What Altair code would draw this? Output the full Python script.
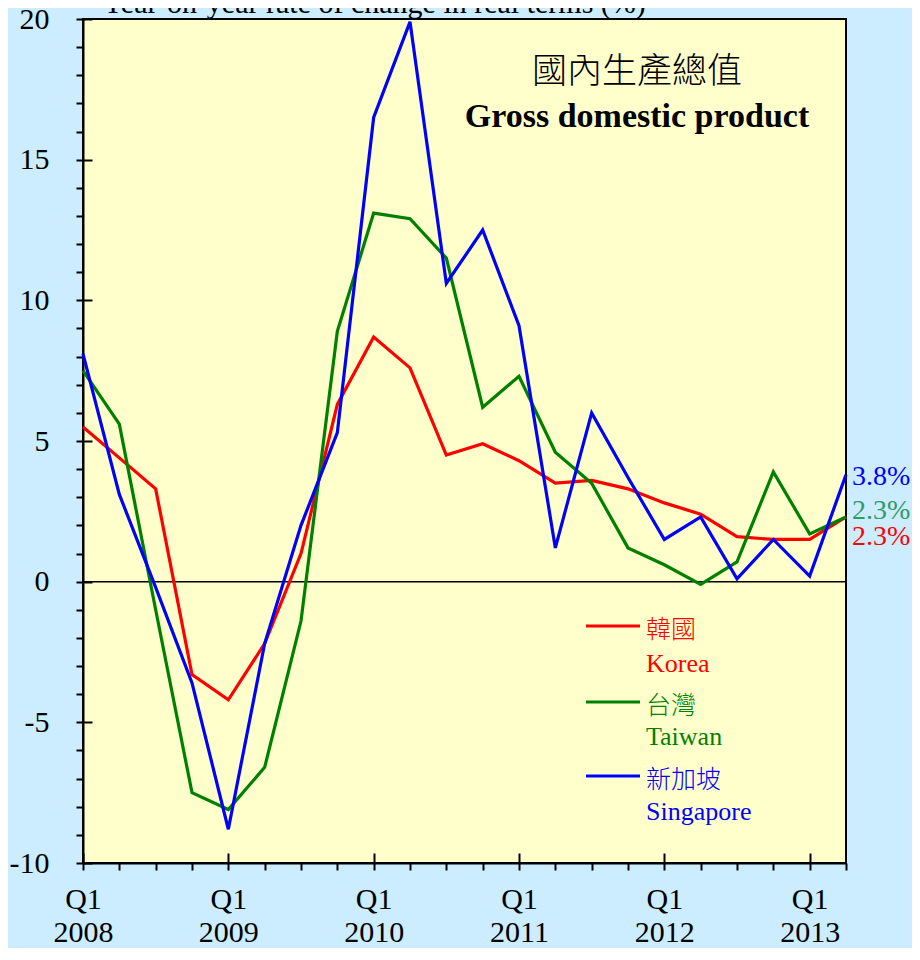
import altair as alt
import pandas as pd
import json

# ---------------- data ----------------
quarters = list(range(22))  # Q1 2008 ... Q2 2013
x_tick_labels = [["Q1", "2008"], "", "", "", ["Q1", "2009"], "", "", "",
                 ["Q1", "2010"], "", "", "", ["Q1", "2011"], "", "", "",
                 ["Q1", "2012"], "", "", "", ["Q1", "2013"], ""]
series = ["Korea", "Taiwan", "Singapore"]
series_zh = ["韓國", "台灣", "新加坡"]
korea = [5.5, 4.4, 3.3, -3.3, -4.2, -2.2, 1.0, 6.3, 8.7, 7.6, 4.5, 4.9,
         4.3, 3.5, 3.6, 3.3, 2.8, 2.4, 1.6, 1.5, 1.5, 2.3]
taiwan = [7.5, 5.6, -1.0, -7.5, -8.1, -6.6, -1.4, 8.9, 13.1, 12.9, 11.5, 6.2,
          7.3, 4.6, 3.5, 1.2, 0.6, -0.1, 0.7, 3.9, 1.7, 2.3]
singapore = [8.1, 3.1, -0.2, -3.6, -8.8, -2.2, 2.0, 5.3, 16.5, 19.9, 10.6, 12.5,
             9.1, 1.2, 6.0, 3.7, 1.5, 2.3, 0.1, 1.5, 0.2, 3.8]
y_ticks = list(range(-10, 21))
y_major = [-10, -5, 0, 5, 10, 15, 20]
x_major = [0, 4, 8, 12, 16, 20]

title_zh = "國內生產總值"
title_en = "Gross domestic product"
y_title = "Year-on-year rate of change in real terms (%)"

# ---------------- styles ----------------
line_colors = ["#FF0000", "#008000", "#0000FF"]
legend_text_colors = ["#FF0000", "#008000", "#0000FF"]
end_label_colors = ["#FF0000", "#339966", "#0000FF"]
end_label_dy = [20, -6, 2]
SERIF = "Liberation Serif"
CJK = "Noto Sans CJK TC"

values = [korea, taiwan, singapore]
rows = []
for s, vals in zip(series, values):
    for q, v in zip(quarters, vals):
        rows.append({"i": q, "v": v, "s": s})
df = pd.DataFrame(rows)

xscale = alt.Scale(domain=[0, 21], nice=False, zero=False)
yscale = alt.Scale(domain=[-10, 20], nice=False, zero=False)

label_expr_x = json.dumps(x_tick_labels, ensure_ascii=False) + "[datum.value]"

main_x_axis = alt.Axis(
    values=quarters, tickSize=7, tickWidth=2, tickColor="black",
    domainColor="black", domainWidth=2, grid=False, labelExpr=label_expr_x,
    labelFont=SERIF, labelFontSize=30, labelColor="black", labelPadding=14,
    labelLineHeight=33, labelAngle=0, labelBaseline="top", labelFlush=False,
    labelOverlap=False, labelBound=False, title=None,
)
main_y_axis = alt.Axis(
    values=y_ticks, tickSize=7, tickWidth=2, tickColor="black",
    domainColor="black", domainWidth=2, grid=False,
    labelExpr="datum.value % 5 == 0 ? '' + datum.value : ''",
    labelFont=SERIF, labelFontSize=30, labelColor="black", labelPadding=27,
    labelFlush=False, labelOverlap=False, labelBound=False, title=None,
)

zero = alt.Chart(pd.DataFrame({"z": [0]})).mark_rule(color="black", strokeWidth=1.5).encode(
    y=alt.Y("z:Q", scale=yscale, axis=None)
)

lines = alt.Chart(df).mark_line(strokeWidth=3.2).encode(
    x=alt.X("i:Q", scale=xscale, axis=main_x_axis),
    y=alt.Y("v:Q", scale=yscale, axis=main_y_axis),
    color=alt.Color("s:N", scale=alt.Scale(domain=series, range=line_colors), legend=None),
    detail="s:N",
)

inner_ticks = alt.Chart(df).mark_point(opacity=0, size=1).encode(
    x=alt.X("i:Q", scale=xscale, axis=alt.Axis(
        orient="bottom", offset=-10, tickSize=10, tickWidth=2, tickColor="black",
        values=x_major, labels=False, domain=False, grid=False, title=None)),
    y=alt.Y("v:Q", scale=yscale, axis=alt.Axis(
        orient="left", offset=-9, tickSize=9, tickWidth=2, tickColor="black",
        values=y_major, labels=False, domain=False, grid=False, title=None)),
)

layers = [zero, lines, inner_ticks]

# end-of-series value labels
last = pd.DataFrame({"s": series, "i": [quarters[-1]] * 3, "v": [vals[-1] for vals in values]})
last["t"] = last["v"].map(lambda v: f"{v:.1f}%")
for k, s in enumerate(series):
    layers.append(
        alt.Chart(last[last["s"] == s]).mark_text(
            align="left", baseline="middle", dx=6, dy=end_label_dy[k],
            font=SERIF, fontSize=28, color=end_label_colors[k],
        ).encode(
            x=alt.X("i:Q", scale=xscale, axis=None),
            y=alt.Y("v:Q", scale=yscale, axis=None),
            text="t:N",
        )
    )

# legend (inside plot)
legend_y = [607, 683, 757]
legend_en_y = [653, 726, 801]
for k in range(3):
    ldf = pd.DataFrame({"zh": [series_zh[k]], "en": [series[k]]})
    layers.append(
        alt.Chart(ldf).mark_rule(color=line_colors[k], strokeWidth=3.2).encode(
            x=alt.value(503), x2=alt.value(557), y=alt.value(legend_y[k])
        )
    )
    layers.append(
        alt.Chart(ldf).mark_text(align="left", baseline="middle", font=CJK,
                                 fontSize=25, fontWeight=300,
                                 color=legend_text_colors[k]).encode(
            x=alt.value(563), y=alt.value(legend_y[k] + 4), text="zh:N"
        )
    )
    layers.append(
        alt.Chart(ldf).mark_text(align="left", baseline="alphabetic", font=SERIF,
                                 fontSize=26, color=legend_text_colors[k]).encode(
            x=alt.value(563), y=alt.value(legend_en_y[k]), text="en:N"
        )
    )

tdf = pd.DataFrame({"zh": [title_zh], "en": [title_en], "yt": [y_title]})
layers.append(
    alt.Chart(tdf).mark_text(align="center", baseline="middle", font=CJK,
                             fontSize=35, fontWeight=300, color="black").encode(
        x=alt.value(554), y=alt.value(53), text="zh:N")
)
layers.append(
    alt.Chart(tdf).mark_text(align="center", baseline="alphabetic", font=SERIF,
                             fontSize=34, fontWeight="bold", color="black").encode(
        x=alt.value(554), y=alt.value(108), text="en:N")
)
layers.append(
    alt.Chart(tdf).mark_text(align="center", baseline="alphabetic", font=SERIF,
                             fontSize=30, color="black").encode(
        x=alt.value(291), y=alt.value(-6), text="yt:N")
)

chart = alt.layer(*layers).resolve_axis(
    x="independent", y="independent"
).properties(
    width=763, height=844,
    autosize=alt.AutoSizeParams(type="none"),
    padding={"left": 75, "top": 11, "right": 66, "bottom": 85},
).configure(background="#CCECFF").configure_view(
    fill="#FFFFCC", stroke="black", strokeWidth=2
)

chart.save("out.html", embed_options={"renderer": "svg", "actions": False})
